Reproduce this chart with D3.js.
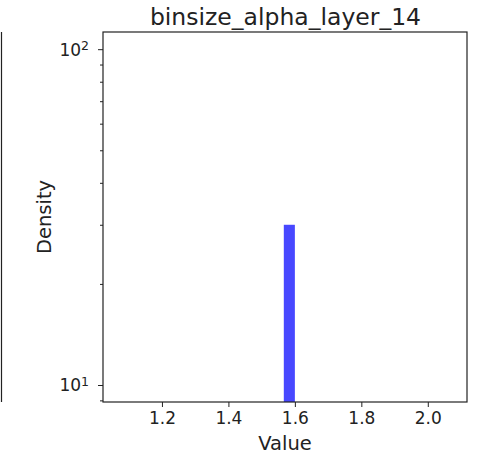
<!DOCTYPE html>
<html>
<head>
<meta charset="utf-8">
<script src="https://cdn.jsdelivr.net/npm/d3@7"></script>
<style>
  body { margin: 0; background: #fff; }
  svg text { font-family: "DejaVu Sans", sans-serif; fill: #222; }
</style>
</head>
<body>
<svg id="chart" width="477" height="454"></svg>
<script>
// histogram bins (30 bins over [1.1, 2.1]); only one bin is non-empty
const binEdges = [1.5667, 1.6];
const binDensity = [30];
const xTicks = [1.2, 1.4, 1.6, 1.8, 2.0];
const yMajor = [10, 100];
const yMinor = [9, 20, 30, 40, 50, 60, 70, 80, 90];
const xDomain = [1.0226, 2.118];
const yDomain = [8.9, 112.5];

const svg = d3.select("#chart");
const margin = {top: 32, right: 10, bottom: 52, left: 103};
const width = 467 - margin.left;
const height = 402 - margin.top;

// leftover frame edge of the neighbouring subplot
svg.append("line")
    .attr("x1", 1.5).attr("x2", 1.5)
    .attr("y1", margin.top).attr("y2", margin.top + height)
    .attr("stroke", "#222").attr("stroke-width", 1.2);

const g = svg.append("g")
    .attr("transform", "translate(" + margin.left + "," + margin.top + ")");

const x = d3.scaleLinear().domain(xDomain).range([0, width]);
const y = d3.scaleLog().domain(yDomain).range([height, 0]);

// bars
g.selectAll("rect.bar")
    .data(binDensity)
    .enter().append("rect")
        .attr("class", "bar")
        .attr("x", (d, i) => x(binEdges[i]))
        .attr("width", (d, i) => x(binEdges[i + 1]) - x(binEdges[i]))
        .attr("y", d => y(d))
        .attr("height", d => height - y(d))
        .attr("fill", "rgb(72,72,255)");

// x axis
const xAxis = d3.axisBottom(x).tickValues(xTicks).tickFormat(d3.format(".1f"))
    .tickSize(5).tickPadding(5);
const gx = g.append("g")
    .attr("transform", "translate(0," + height + ")")
    .call(xAxis);
gx.select(".domain").remove();
gx.selectAll("text").attr("font-size", 17).attr("fill", "#222");

// y axis major ticks
const gy = g.append("g").call(d3.axisLeft(y).tickValues(yMajor).tickFormat("").tickSize(5));
gy.select(".domain").remove();
gy.selectAll(".tick").each(function(d) {
    const t = d3.select(this).append("text")
        .attr("x", -14).attr("dy", "0.35em")
        .attr("text-anchor", "end")
        .attr("font-size", 17);
    t.append("tspan").text("10");
    t.append("tspan").attr("dy", "-0.45em").attr("font-size", 12.5)
        .text(Math.round(Math.log10(d)));
});

// y axis minor ticks
const gm = g.append("g").call(d3.axisLeft(y).tickValues(yMinor).tickFormat("").tickSize(3));
gm.select(".domain").remove();

g.selectAll(".tick line").attr("stroke", "#222");

// frame
g.append("rect")
    .attr("width", width).attr("height", height)
    .attr("fill", "none").attr("stroke", "#222").attr("stroke-width", 1.2);

// labels
svg.append("text")
    .attr("x", margin.left + width / 2 + 0.5).attr("y", 25)
    .attr("text-anchor", "middle").attr("font-size", 23.5)
    .text("binsize_alpha_layer_14");

svg.append("text")
    .attr("x", margin.left + width / 2).attr("y", 450)
    .attr("text-anchor", "middle").attr("font-size", 19.5)
    .text("Value");

svg.append("text")
    .attr("transform", "translate(51," + (margin.top + height / 2) + ") rotate(-90)")
    .attr("text-anchor", "middle").attr("font-size", 19.5)
    .text("Density");
</script>
</body>
</html>
